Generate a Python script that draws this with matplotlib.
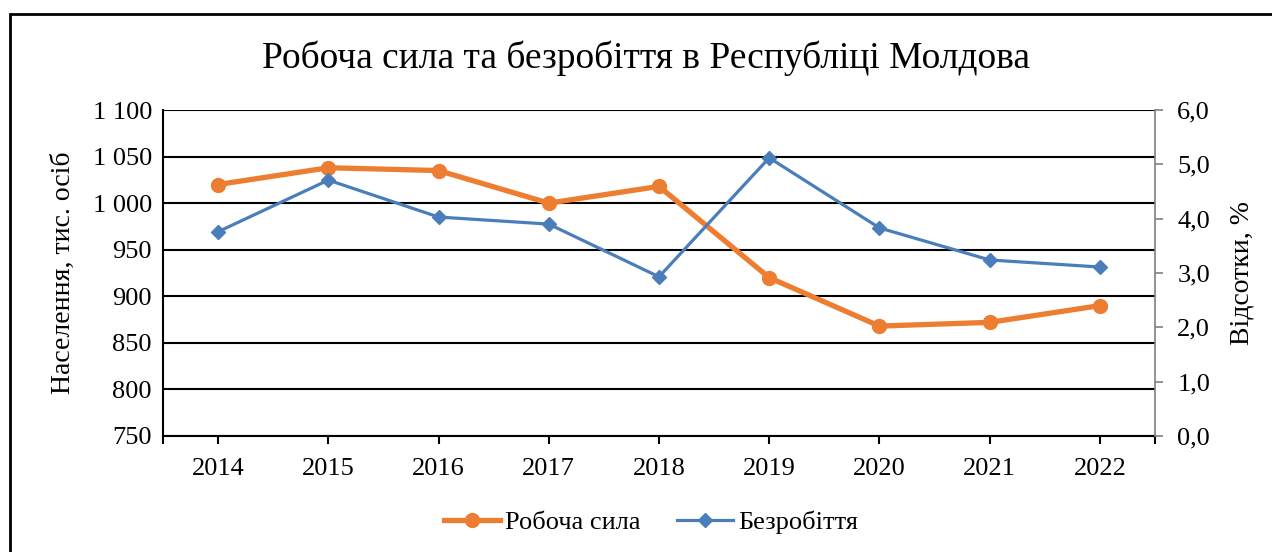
import matplotlib
matplotlib.use("Agg")
import matplotlib.pyplot as plt
from matplotlib.patches import Rectangle
from matplotlib.ticker import FuncFormatter, FixedLocator

plt.rcParams['font.family'] = ['Liberation Serif', 'DejaVu Serif']

years = ["2014", "2015", "2016", "2017", "2018", "2019", "2020", "2021", "2022"]
labour_force = [1020, 1038, 1035, 1000, 1018, 920, 868, 872, 890]
unemployment = [3.76, 4.71, 4.03, 3.90, 2.93, 5.12, 3.83, 3.24, 3.11]

title = "Робоча сила та безробіття в Республіці Молдова"
left_label = "Населення, тис. осіб"
right_label = "Відсотки, %"
series_names = ["Робоча сила", "Безробіття"]

orange = "#ED7D31"
blue = "#4A7EBB"

fig = plt.figure(figsize=(12.72, 5.52), dpi=100)
fig.patches.append(Rectangle((10/1272, -0.1), 1.2, 1 - 14/552 + 0.1,
                             transform=fig.transFigure, fill=False,
                             edgecolor="black", linewidth=2.0, zorder=0))

ax = fig.add_axes([163/1272, 1 - 436/552, (1155-163)/1272, (436-110)/552])
ax2 = ax.twinx()

x = list(range(len(years)))
l1, = ax.plot(x, labour_force, color=orange, linewidth=3.8, marker="o",
              markersize=10, label=series_names[0], zorder=3)
l2, = ax2.plot(x, unemployment, color=blue, linewidth=2.3, marker="D",
               markersize=7, label=series_names[1], zorder=3)

ax.set_xlim(-0.5, len(years) - 0.5)
ax.set_ylim(750, 1100)
ax2.set_ylim(0, 6)
ax.set_yticks(range(750, 1101, 50))
ax.yaxis.set_major_formatter(FuncFormatter(lambda v, p: f"{int(v):,}".replace(",", " ")))
ax2.set_yticks(range(0, 7))
ax2.yaxis.set_major_formatter(FuncFormatter(lambda v, p: f"{v:.1f}".replace(".", ",")))

ax.set_xticks(x)
ax.set_xticklabels(years)
ax.xaxis.set_minor_locator(FixedLocator([-0.5, len(years) - 0.5]))

ax.grid(axis="y", color="black", linewidth=1.5, zorder=0)
ax.set_axisbelow(True)

ax.spines["top"].set_visible(False)
ax2.spines["top"].set_visible(False)
ax.spines["right"].set_visible(False)
ax.spines["left"].set_color("black")
ax.spines["left"].set_linewidth(1.5)
ax.spines["bottom"].set_linewidth(1.5)
ax2.spines["left"].set_visible(False)
ax2.spines["bottom"].set_visible(False)
ax2.spines["right"].set_color("#808080")
ax2.spines["right"].set_linewidth(1.2)

fs = 19
ax.tick_params(axis="y", length=0, labelsize=fs, pad=8)
ax.tick_params(axis="x", which="both", length=6, width=1.5, direction="out",
               labelsize=fs, pad=10)
ax2.tick_params(axis="y", length=6, width=1.2, color="#808080", labelsize=fs, pad=10)

ax.set_ylabel(left_label, fontsize=fs + 1, labelpad=12)
ax2.set_ylabel(right_label, fontsize=fs + 1, labelpad=14)

fig.text(0.5075, 1 - 58/552, title, ha="center", va="center", fontsize=27)

fig.legend([l1, l2], series_names, loc="center", bbox_to_anchor=(0.512, 1 - 522/552),
           ncol=2, frameon=False, fontsize=fs, handlelength=2.1, columnspacing=1.4,
           handletextpad=0.2)

fig.savefig("out.png", dpi=100)
